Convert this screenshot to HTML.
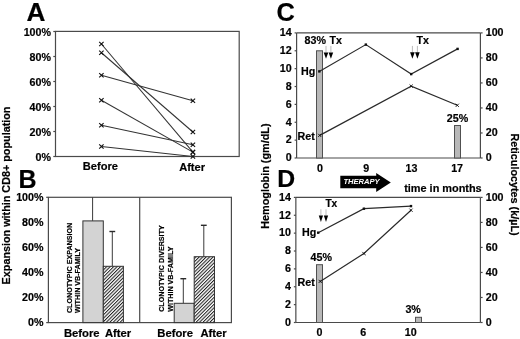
<!DOCTYPE html>
<html><head><meta charset="utf-8"><style>
html,body{margin:0;padding:0;background:#fff;}
svg{display:block;will-change:transform;}
text{font-family:"Liberation Sans",sans-serif;fill:#000;}
.b{font-weight:bold;stroke:#000;stroke-width:0.2px;}
</style></head><body>
<svg width="520" height="339" viewBox="0 0 520 339">
<defs>

<pattern id="hatch" width="2.44" height="4" patternUnits="userSpaceOnUse" patternTransform="rotate(45)"><rect width="2.44" height="4" fill="#fff"/><rect width="1.05" height="4" fill="#222"/></pattern>
</defs>
<text x="26.4" y="20.9" font-size="26.2" class="b">A</text><rect x="55.5" y="31.4" width="183.7" height="125.1" fill="none" stroke="#4a4a4a" stroke-width="1.2"/><line x1="53.3" y1="156.5" x2="55.5" y2="156.5" stroke="#4a4a4a" stroke-width="1.2"/><text x="51" y="160.7" font-size="10.7" class="b" text-anchor="end">0%</text><line x1="53.3" y1="131.5" x2="55.5" y2="131.5" stroke="#4a4a4a" stroke-width="1.2"/><text x="51" y="135.7" font-size="10.7" class="b" text-anchor="end">20%</text><line x1="53.3" y1="106.5" x2="55.5" y2="106.5" stroke="#4a4a4a" stroke-width="1.2"/><text x="51" y="110.7" font-size="10.7" class="b" text-anchor="end">40%</text><line x1="53.3" y1="81.5" x2="55.5" y2="81.5" stroke="#4a4a4a" stroke-width="1.2"/><text x="51" y="85.7" font-size="10.7" class="b" text-anchor="end">60%</text><line x1="53.3" y1="56.5" x2="55.5" y2="56.5" stroke="#4a4a4a" stroke-width="1.2"/><text x="51" y="60.7" font-size="10.7" class="b" text-anchor="end">80%</text><line x1="53.3" y1="31.5" x2="55.5" y2="31.5" stroke="#4a4a4a" stroke-width="1.2"/><text x="51" y="35.7" font-size="10.7" class="b" text-anchor="end">100%</text><line x1="101.4" y1="44.0" x2="192.9" y2="152.125" stroke="#333" stroke-width="1.05"/><line x1="101.4" y1="52.75" x2="192.9" y2="132.0" stroke="#333" stroke-width="1.05"/><line x1="101.4" y1="75.25" x2="192.9" y2="100.75" stroke="#333" stroke-width="1.05"/><line x1="101.4" y1="100.25" x2="192.9" y2="152.125" stroke="#333" stroke-width="1.05"/><line x1="101.4" y1="125.25" x2="192.9" y2="144.75" stroke="#333" stroke-width="1.05"/><line x1="101.4" y1="146.5" x2="192.9" y2="156.5" stroke="#333" stroke-width="1.05"/><path d="M99.2,41.8L103.60000000000001,46.2M99.2,46.2L103.60000000000001,41.8" stroke="#111" stroke-width="1.1"/><path d="M190.70000000000002,149.925L195.1,154.325M190.70000000000002,154.325L195.1,149.925" stroke="#111" stroke-width="1.1"/><path d="M99.2,50.55L103.60000000000001,54.95M99.2,54.95L103.60000000000001,50.55" stroke="#111" stroke-width="1.1"/><path d="M190.70000000000002,129.8L195.1,134.2M190.70000000000002,134.2L195.1,129.8" stroke="#111" stroke-width="1.1"/><path d="M99.2,73.05L103.60000000000001,77.45M99.2,77.45L103.60000000000001,73.05" stroke="#111" stroke-width="1.1"/><path d="M190.70000000000002,98.55L195.1,102.95M190.70000000000002,102.95L195.1,98.55" stroke="#111" stroke-width="1.1"/><path d="M99.2,98.05L103.60000000000001,102.45M99.2,102.45L103.60000000000001,98.05" stroke="#111" stroke-width="1.1"/><path d="M190.70000000000002,149.925L195.1,154.325M190.70000000000002,154.325L195.1,149.925" stroke="#111" stroke-width="1.1"/><path d="M99.2,123.05L103.60000000000001,127.45M99.2,127.45L103.60000000000001,123.05" stroke="#111" stroke-width="1.1"/><path d="M190.70000000000002,142.55L195.1,146.95M190.70000000000002,146.95L195.1,142.55" stroke="#111" stroke-width="1.1"/><path d="M99.2,144.3L103.60000000000001,148.7M99.2,148.7L103.60000000000001,144.3" stroke="#111" stroke-width="1.1"/><path d="M190.70000000000002,154.3L195.1,158.7M190.70000000000002,158.7L195.1,154.3" stroke="#111" stroke-width="1.1"/><text x="100.4" y="170.3" font-size="11.1" class="b" text-anchor="middle">Before</text><text x="192.1" y="170.9" font-size="11.1" class="b" text-anchor="middle">After</text><text transform="translate(9.5,195.5) rotate(-90)" font-size="10.8" class="b" text-anchor="middle">Expansion within CD8+ population</text><text x="18.4" y="187.6" font-size="25" class="b">B</text><rect x="48.4" y="197.3" width="183.0" height="125.30000000000001" fill="none" stroke="#4a4a4a" stroke-width="1.2"/><line x1="139.7" y1="197.3" x2="139.7" y2="322.6" stroke="#4a4a4a" stroke-width="1.2"/><line x1="46.199999999999996" y1="322.6" x2="48.4" y2="322.6" stroke="#4a4a4a" stroke-width="1.2"/><text x="43.5" y="326.40000000000003" font-size="10.7" class="b" text-anchor="end">0%</text><text x="43.5" y="301.34000000000003" font-size="10.7" class="b" text-anchor="end">20%</text><text x="43.5" y="276.28000000000003" font-size="10.7" class="b" text-anchor="end">40%</text><text x="43.5" y="251.22000000000003" font-size="10.7" class="b" text-anchor="end">60%</text><text x="43.5" y="226.16000000000003" font-size="10.7" class="b" text-anchor="end">80%</text><line x1="46.199999999999996" y1="197.3" x2="48.4" y2="197.3" stroke="#4a4a4a" stroke-width="1.2"/><text x="43.5" y="201.10000000000002" font-size="10.7" class="b" text-anchor="end">100%</text><line x1="92.6" y1="197.3" x2="92.6" y2="220.9" stroke="#3a3a3a" stroke-width="1"/><rect x="82.9" y="220.9" width="20.39999999999999" height="101.70000000000002" fill="#d3d3d3" stroke="#333" stroke-width="1"/><line x1="112.3" y1="231.3" x2="112.3" y2="266.3" stroke="#3a3a3a" stroke-width="1"/><line x1="109.39999999999999" y1="231.5" x2="115.2" y2="231.5" stroke="#2a2a2a" stroke-width="1.4"/><rect x="103.3" y="266.3" width="20.10000000000001" height="56.30000000000001" fill="url(#hatch)" stroke="#333" stroke-width="1"/><line x1="183.3" y1="278.5" x2="183.3" y2="303.3" stroke="#3a3a3a" stroke-width="1"/><line x1="180.4" y1="278.7" x2="186.20000000000002" y2="278.7" stroke="#2a2a2a" stroke-width="1.4"/><rect x="174.2" y="303.3" width="20.0" height="19.30000000000001" fill="#d3d3d3" stroke="#333" stroke-width="1"/><line x1="203.8" y1="225.1" x2="203.8" y2="256.7" stroke="#3a3a3a" stroke-width="1"/><line x1="200.9" y1="225.29999999999998" x2="206.70000000000002" y2="225.29999999999998" stroke="#2a2a2a" stroke-width="1.4"/><rect x="194.2" y="256.7" width="20.30000000000001" height="65.90000000000003" fill="url(#hatch)" stroke="#333" stroke-width="1"/><text transform="translate(71.8,313.1) rotate(-90)" font-size="7.15" class="b">CLONOTYPIC EXPANSION</text><text transform="translate(80.1,313.1) rotate(-90)" font-size="7.15" class="b">WITHIN VB-FAMILY</text><text transform="translate(164.2,311.8) rotate(-90)" font-size="7.15" class="b">CLONOTYPIC DIVERSITY</text><text transform="translate(172.7,311.8) rotate(-90)" font-size="7.15" class="b">WITHIN VB-FAMILY</text><text x="63.9" y="336.8" font-size="11.25" class="b">Before</text><text x="105" y="336.8" font-size="11.25" class="b">After</text><text x="157.3" y="336.8" font-size="11.25" class="b">Before</text><text x="200.5" y="336.8" font-size="11.25" class="b">After</text><text x="276.5" y="20.9" font-size="25.4" class="b">C</text><line x1="296.6" y1="32.9" x2="480.4" y2="32.9" stroke="#4a4a4a" stroke-width="1.2"/><line x1="296.6" y1="158" x2="480.4" y2="158" stroke="#4a4a4a" stroke-width="1.2"/><line x1="296.6" y1="32.9" x2="296.6" y2="158" stroke="#4a4a4a" stroke-width="1.2"/><line x1="480.4" y1="32.9" x2="480.4" y2="158" stroke="#4a4a4a" stroke-width="1.2"/><line x1="294.6" y1="158.0" x2="296.6" y2="158.0" stroke="#4a4a4a" stroke-width="1.2"/><text x="291.6" y="161.25" font-size="10.7" class="b" text-anchor="end">0</text><line x1="294.6" y1="140.12857142857143" x2="296.6" y2="140.12857142857143" stroke="#4a4a4a" stroke-width="1.2"/><text x="291.6" y="143.37857142857143" font-size="10.7" class="b" text-anchor="end">2</text><line x1="294.6" y1="122.25714285714287" x2="296.6" y2="122.25714285714287" stroke="#4a4a4a" stroke-width="1.2"/><text x="291.6" y="125.50714285714287" font-size="10.7" class="b" text-anchor="end">4</text><line x1="294.6" y1="104.3857142857143" x2="296.6" y2="104.3857142857143" stroke="#4a4a4a" stroke-width="1.2"/><text x="291.6" y="107.6357142857143" font-size="10.7" class="b" text-anchor="end">6</text><line x1="294.6" y1="86.51428571428572" x2="296.6" y2="86.51428571428572" stroke="#4a4a4a" stroke-width="1.2"/><text x="291.6" y="89.76428571428572" font-size="10.7" class="b" text-anchor="end">8</text><line x1="294.6" y1="68.64285714285714" x2="296.6" y2="68.64285714285714" stroke="#4a4a4a" stroke-width="1.2"/><text x="291.6" y="71.89285714285714" font-size="10.7" class="b" text-anchor="end">10</text><line x1="294.6" y1="50.77142857142859" x2="296.6" y2="50.77142857142859" stroke="#4a4a4a" stroke-width="1.2"/><text x="291.6" y="54.02142857142859" font-size="10.7" class="b" text-anchor="end">12</text><line x1="294.6" y1="32.900000000000006" x2="296.6" y2="32.900000000000006" stroke="#4a4a4a" stroke-width="1.2"/><text x="291.6" y="36.150000000000006" font-size="10.7" class="b" text-anchor="end">14</text><line x1="480.4" y1="158.0" x2="482.59999999999997" y2="158.0" stroke="#4a4a4a" stroke-width="1.2"/><text x="485.7" y="161.15" font-size="10.7" class="b">0</text><line x1="480.4" y1="132.98" x2="482.59999999999997" y2="132.98" stroke="#4a4a4a" stroke-width="1.2"/><text x="485.7" y="136.13" font-size="10.7" class="b">20</text><line x1="480.4" y1="107.96000000000001" x2="482.59999999999997" y2="107.96000000000001" stroke="#4a4a4a" stroke-width="1.2"/><text x="485.7" y="111.11000000000001" font-size="10.7" class="b">40</text><line x1="480.4" y1="82.94000000000001" x2="482.59999999999997" y2="82.94000000000001" stroke="#4a4a4a" stroke-width="1.2"/><text x="485.7" y="86.09000000000002" font-size="10.7" class="b">60</text><line x1="480.4" y1="57.92" x2="482.59999999999997" y2="57.92" stroke="#4a4a4a" stroke-width="1.2"/><text x="485.7" y="61.07" font-size="10.7" class="b">80</text><line x1="480.4" y1="32.900000000000006" x2="482.59999999999997" y2="32.900000000000006" stroke="#4a4a4a" stroke-width="1.2"/><text x="485.7" y="36.050000000000004" font-size="10.7" class="b">100</text><text x="319.9" y="171.5" font-size="10.7" class="b" text-anchor="middle">0</text><text x="366.2" y="171.5" font-size="10.7" class="b" text-anchor="middle">9</text><text x="411.4" y="171.5" font-size="10.7" class="b" text-anchor="middle">13</text><text x="457.1" y="171.5" font-size="10.7" class="b" text-anchor="middle">17</text><rect x="316.5" y="50.8" width="6.0" height="107.2" fill="#b8b8b8" stroke="#505050" stroke-width="1"/><rect x="454.5" y="125.5" width="6.0" height="32.5" fill="#b8b8b8" stroke="#505050" stroke-width="1"/><polyline points="319.3,71.4 365.85,44.6 411.2,74.1 457.6,48.9" fill="none" stroke="#2a2a2a" stroke-width="1.2"/><polyline points="319.7,135.4 411.2,86.1 457.3,105.3" fill="none" stroke="#2a2a2a" stroke-width="1.2"/><rect x="318.1" y="70.2" width="2.4" height="2.4" fill="#111"/><rect x="364.65000000000003" y="43.4" width="2.4" height="2.4" fill="#111"/><rect x="410.0" y="72.89999999999999" width="2.4" height="2.4" fill="#111"/><rect x="456.40000000000003" y="47.699999999999996" width="2.4" height="2.4" fill="#111"/><path d="M318.09999999999997,133.8L321.3,137.0M318.09999999999997,137.0L321.3,133.8" stroke="#111" stroke-width="0.9"/><path d="M409.59999999999997,84.5L412.8,87.69999999999999M409.59999999999997,87.69999999999999L412.8,84.5" stroke="#111" stroke-width="0.9"/><path d="M455.7,103.7L458.90000000000003,106.89999999999999M455.7,106.89999999999999L458.90000000000003,103.7" stroke="#111" stroke-width="0.9"/><line x1="326" y1="45.9" x2="326" y2="52.4" stroke="#bbb" stroke-width="1"/><path d="M323.7,52.4L328.3,52.4L326,58.8Z" fill="#000"/><line x1="330.9" y1="45.9" x2="330.9" y2="52.4" stroke="#bbb" stroke-width="1"/><path d="M328.59999999999997,52.4L333.2,52.4L330.9,58.8Z" fill="#000"/><line x1="412.4" y1="45.9" x2="412.4" y2="52.3" stroke="#bbb" stroke-width="1"/><path d="M410.09999999999997,52.3L414.7,52.3L412.4,58.8Z" fill="#000"/><line x1="417.4" y1="45.9" x2="417.4" y2="52.3" stroke="#bbb" stroke-width="1"/><path d="M415.09999999999997,52.3L419.7,52.3L417.4,58.8Z" fill="#000"/><text x="304.5" y="43.6" font-size="10.7" class="b">83%</text><text x="329.6" y="43.7" font-size="10.7" class="b">Tx</text><text x="416.6" y="44" font-size="10.7" class="b">Tx</text><text x="301.1" y="75.4" font-size="10.7" class="b">Hg</text><text x="297.5" y="139.5" font-size="10.7" class="b">Ret</text><text x="446.8" y="121.8" font-size="10.7" class="b">25%</text><path d="M340.3,175.8H376.2V173L390.8,182.5L376.2,192V188.3H340.3Z" fill="#000"/><text x="343.4" y="184.1" font-size="7.6" font-weight="bold" font-style="italic" style="fill:#fff">THERAPY</text><text x="404.2" y="191.9" font-size="10.9" class="b">time in months</text><text x="277.2" y="187.3" font-size="24.8" class="b">D</text><line x1="295.85" y1="197.4" x2="480.4" y2="197.4" stroke="#4a4a4a" stroke-width="1.2"/><line x1="295.85" y1="322.5" x2="480.4" y2="322.5" stroke="#4a4a4a" stroke-width="1.2"/><line x1="295.85" y1="197.4" x2="295.85" y2="322.5" stroke="#4a4a4a" stroke-width="1.2"/><line x1="480.4" y1="197.4" x2="480.4" y2="322.5" stroke="#4a4a4a" stroke-width="1.2"/><line x1="293.85" y1="322.5" x2="295.85" y2="322.5" stroke="#4a4a4a" stroke-width="1.2"/><text x="290.85" y="325.75" font-size="10.7" class="b" text-anchor="end">0</text><line x1="293.85" y1="304.62857142857143" x2="295.85" y2="304.62857142857143" stroke="#4a4a4a" stroke-width="1.2"/><text x="290.85" y="307.87857142857143" font-size="10.7" class="b" text-anchor="end">2</text><line x1="293.85" y1="286.75714285714287" x2="295.85" y2="286.75714285714287" stroke="#4a4a4a" stroke-width="1.2"/><text x="290.85" y="290.00714285714287" font-size="10.7" class="b" text-anchor="end">4</text><line x1="293.85" y1="268.8857142857143" x2="295.85" y2="268.8857142857143" stroke="#4a4a4a" stroke-width="1.2"/><text x="290.85" y="272.1357142857143" font-size="10.7" class="b" text-anchor="end">6</text><line x1="293.85" y1="251.01428571428573" x2="295.85" y2="251.01428571428573" stroke="#4a4a4a" stroke-width="1.2"/><text x="290.85" y="254.26428571428573" font-size="10.7" class="b" text-anchor="end">8</text><line x1="293.85" y1="233.14285714285714" x2="295.85" y2="233.14285714285714" stroke="#4a4a4a" stroke-width="1.2"/><text x="290.85" y="236.39285714285714" font-size="10.7" class="b" text-anchor="end">10</text><line x1="293.85" y1="215.2714285714286" x2="295.85" y2="215.2714285714286" stroke="#4a4a4a" stroke-width="1.2"/><text x="290.85" y="218.5214285714286" font-size="10.7" class="b" text-anchor="end">12</text><line x1="293.85" y1="197.4" x2="295.85" y2="197.4" stroke="#4a4a4a" stroke-width="1.2"/><text x="290.85" y="200.65" font-size="10.7" class="b" text-anchor="end">14</text><line x1="480.4" y1="322.5" x2="482.59999999999997" y2="322.5" stroke="#4a4a4a" stroke-width="1.2"/><text x="485.7" y="325.65" font-size="10.7" class="b">0</text><line x1="480.4" y1="297.48" x2="482.59999999999997" y2="297.48" stroke="#4a4a4a" stroke-width="1.2"/><text x="485.7" y="300.63" font-size="10.7" class="b">20</text><line x1="480.4" y1="272.46" x2="482.59999999999997" y2="272.46" stroke="#4a4a4a" stroke-width="1.2"/><text x="485.7" y="275.60999999999996" font-size="10.7" class="b">40</text><line x1="480.4" y1="247.44" x2="482.59999999999997" y2="247.44" stroke="#4a4a4a" stroke-width="1.2"/><text x="485.7" y="250.59" font-size="10.7" class="b">60</text><line x1="480.4" y1="222.42000000000002" x2="482.59999999999997" y2="222.42000000000002" stroke="#4a4a4a" stroke-width="1.2"/><text x="485.7" y="225.57000000000002" font-size="10.7" class="b">80</text><line x1="480.4" y1="197.4" x2="482.59999999999997" y2="197.4" stroke="#4a4a4a" stroke-width="1.2"/><text x="485.7" y="200.55" font-size="10.7" class="b">100</text><text x="319.5" y="336.0" font-size="10.7" class="b" text-anchor="middle">0</text><text x="363.25" y="336.0" font-size="10.7" class="b" text-anchor="middle">6</text><text x="410.75" y="336.0" font-size="10.7" class="b" text-anchor="middle">10</text><rect x="316.5" y="264.7" width="6.0" height="57.80000000000001" fill="#b8b8b8" stroke="#505050" stroke-width="1"/><rect x="415.5" y="317.3" width="6.0" height="5.199999999999989" fill="#b8b8b8" stroke="#505050" stroke-width="1"/><polyline points="318.2,232.7 363.9,208.7 411,206.1" fill="none" stroke="#2a2a2a" stroke-width="1.2"/><polyline points="320.2,281.4 363.9,253.5 411,210.2" fill="none" stroke="#2a2a2a" stroke-width="1.2"/><rect x="317.0" y="231.5" width="2.4" height="2.4" fill="#111"/><rect x="362.7" y="207.5" width="2.4" height="2.4" fill="#111"/><rect x="409.8" y="204.9" width="2.4" height="2.4" fill="#111"/><path d="M318.59999999999997,279.79999999999995L321.8,283.0M318.59999999999997,283.0L321.8,279.79999999999995" stroke="#111" stroke-width="0.9"/><path d="M362.29999999999995,251.9L365.5,255.1M362.29999999999995,255.1L365.5,251.9" stroke="#111" stroke-width="0.9"/><path d="M409.4,208.6L412.6,211.79999999999998M409.4,211.79999999999998L412.6,208.6" stroke="#111" stroke-width="0.9"/><line x1="320.9" y1="209.3" x2="320.9" y2="215.6" stroke="#bbb" stroke-width="1"/><path d="M318.75,215.6L323.04999999999995,215.6L320.9,221.9Z" fill="#000"/><line x1="326" y1="209.3" x2="326" y2="215.6" stroke="#bbb" stroke-width="1"/><path d="M323.85,215.6L328.15,215.6L326,221.9Z" fill="#000"/><text x="325.4" y="207.0" font-size="10.2" class="b">Tx</text><text x="302.1" y="236.2" font-size="10.7" class="b">Hg</text><text x="310.5" y="261.1" font-size="10.7" class="b">45%</text><text x="297.6" y="286.2" font-size="10.7" class="b">Ret</text><text x="405.4" y="312.9" font-size="10.7" class="b">3%</text><text transform="translate(269.0,176.1) rotate(-90)" font-size="10.85" class="b" text-anchor="middle">Hemoglobin (gm/dL)</text><text transform="translate(510.6,184.5) rotate(90)" font-size="10.8" class="b" text-anchor="middle">Reticulocytes (k/µL)</text>
</svg>
</body></html>
